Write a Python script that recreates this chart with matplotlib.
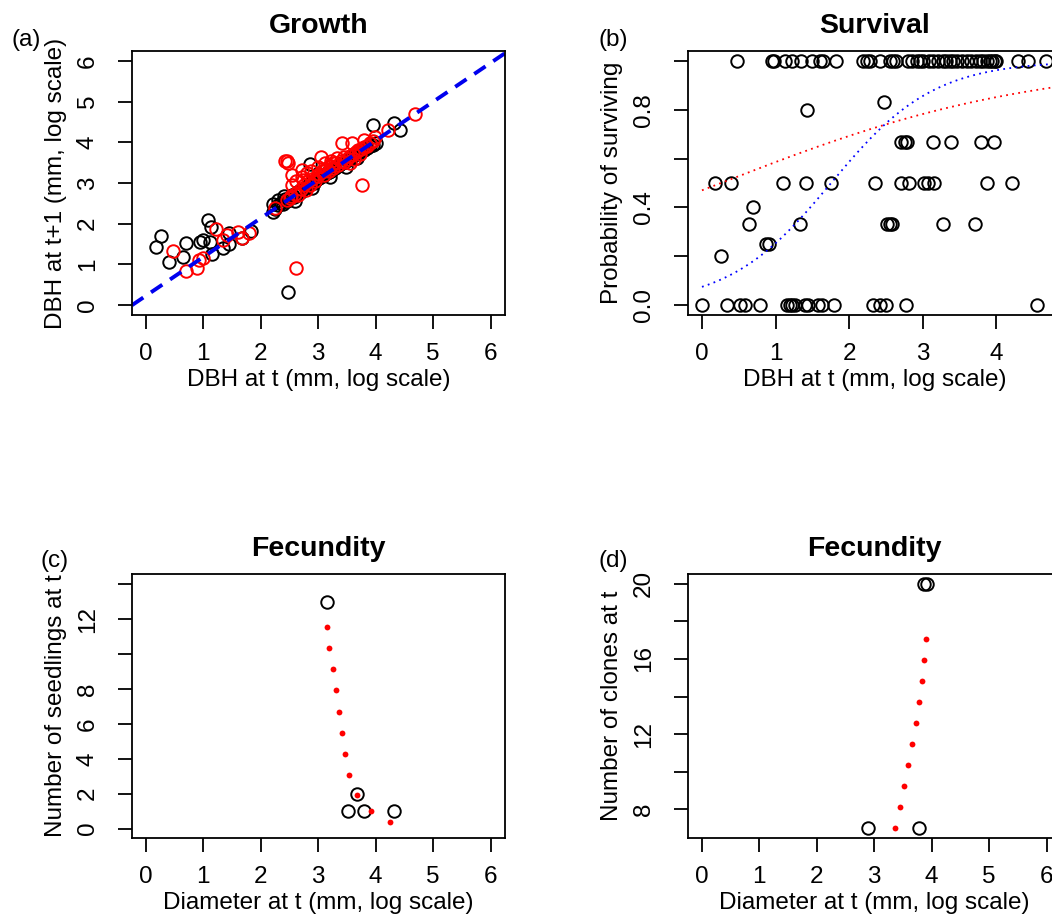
import numpy as np
import matplotlib
matplotlib.use("Agg")
import matplotlib.pyplot as plt

plt.rcParams['font.family'] = ['Liberation Sans', 'DejaVu Sans']

# ---- growth: log DBH at t vs t+1 ----
growth_black_x = [0.18, 0.27, 0.41, 0.64, 0.70, 0.94, 0.99, 1.09, 1.13, 1.12, 1.15, 1.35, 1.44, 1.44,
                  1.67, 1.83, 2.22, 2.21, 2.30, 2.41, 2.48, 2.85, 3.96, 4.31, 4.43,
                  2.25, 2.30, 2.35, 2.38, 2.42, 2.45, 2.50, 2.55, 2.58, 2.62, 2.66, 2.70, 2.74, 2.78,
                  2.82, 2.85, 2.88, 2.92, 2.95, 2.98, 3.02, 3.05, 3.08, 3.12, 3.15, 3.18, 3.22, 3.25,
                  3.30, 3.34, 3.38, 3.42, 3.46, 3.50, 3.55, 3.60, 3.65, 3.70, 3.75, 3.80, 3.85, 3.90,
                  3.95, 4.00, 2.60, 2.90, 3.20, 3.48, 3.68]
growth_black_y = [1.43, 1.69, 1.05, 1.18, 1.53, 1.54, 1.61, 2.10, 1.91, 1.55, 1.26, 1.41, 1.77, 1.51,
                  1.65, 1.83, 2.28, 2.49, 2.59, 2.69, 0.33, 3.46, 4.43, 4.48, 4.29,
                  2.35, 2.45, 2.52, 2.48, 2.60, 2.55, 2.62, 2.70, 2.66, 2.75, 2.80, 2.78, 2.86, 2.90,
                  2.92, 2.98, 3.02, 3.00, 3.06, 3.10, 3.12, 3.16, 3.18, 3.22, 3.25, 3.28, 3.30, 3.34,
                  3.38, 3.42, 3.46, 3.50, 3.52, 3.56, 3.60, 3.66, 3.70, 3.74, 3.78, 3.82, 3.86, 3.90,
                  3.94, 3.98, 2.55, 2.88, 3.15, 3.40, 3.62]
growth_red_x = [0.47, 0.70, 0.89, 0.92, 1.00, 1.23, 1.35, 1.41, 1.61, 1.67, 1.79, 2.24, 2.42, 2.48,
                2.45, 2.61, 2.55, 2.71, 2.74, 3.04, 3.41, 3.59, 3.76, 3.79, 3.99, 4.22, 4.68,
                2.45, 2.52, 2.60, 2.65, 2.70, 2.75, 2.78, 2.82, 2.86, 2.90, 2.94, 2.98, 3.02, 3.06,
                3.10, 3.14, 3.18, 3.22, 3.26, 3.30, 3.35, 3.40, 3.45, 3.50, 3.55, 3.60, 3.65, 3.70,
                3.75, 3.80, 3.85, 3.90, 3.95, 2.62, 2.72, 2.80, 2.88, 3.00, 3.12, 3.22, 3.32, 3.10,
                2.55, 3.55, 3.62, 3.72, 3.25, 3.45, 2.51]
growth_red_y = [1.32, 0.83, 0.92, 1.10, 1.16, 1.88, 1.61, 1.73, 1.80, 1.65, 1.77, 2.39, 3.53, 3.49,
                3.55, 0.91, 3.19, 3.33, 3.08, 3.64, 3.98, 3.98, 2.96, 4.06, 4.14, 4.29, 4.70,
                2.58, 2.68, 2.74, 2.70, 2.85, 2.95, 2.84, 3.05, 2.94, 3.10, 3.05, 3.18, 3.22, 3.30,
                3.20, 3.35, 3.30, 3.42, 3.38, 3.50, 3.45, 3.55, 3.52, 3.60, 3.66, 3.70, 3.76, 3.80,
                3.84, 3.88, 3.92, 3.98, 4.02, 3.05, 3.15, 3.25, 3.30, 3.40, 3.48, 3.55, 3.62, 3.30,
                2.95, 3.48, 3.58, 3.70, 3.50, 3.65, 2.63]
growth_fit = (0.23, 0.953)  # intercept, slope

# ---- survival: observed proportions and two logistic fits ----
surv_x = [0.47, 0.95, 0.98, 1.13, 1.22, 1.35, 1.49, 1.61, 1.65, 1.82, 2.19, 2.24, 2.28, 2.42, 2.55,
          2.60, 2.64, 2.80, 2.85, 2.92, 2.96, 3.01, 3.08, 3.14, 3.21, 3.28, 3.32, 3.37, 3.41, 3.46,
          3.53, 3.60, 3.66, 3.73, 3.78, 3.82, 3.87, 3.91, 3.94, 3.98, 4.00, 4.30, 4.43, 4.68,
          1.43, 2.48,
          2.71, 2.76, 2.78, 3.14, 3.38, 3.79, 3.97,
          0.18, 0.40, 1.10, 1.41, 1.76, 2.35, 2.71, 2.81, 3.02, 3.07, 3.16, 3.88, 4.22,
          0.69,
          0.64, 1.33, 2.51, 2.55, 2.58, 3.28, 3.71,
          0.87, 0.91,
          0.26,
          0.00, 0.34, 0.52, 0.58, 0.79, 1.15, 1.19, 1.22, 1.26, 1.40, 1.44, 1.58, 1.63, 1.79,
          2.33, 2.42, 2.50, 2.77, 4.56]
surv_y = [1.0] * 44 + [0.8, 0.833] + [0.667] * 7 + [0.5] * 13 + [0.4] + [0.333] * 7 + \
         [0.25] * 2 + [0.2] + [0.0] * 19
surv_fit_red = (-0.12, 0.466)
surv_fit_blue = (-2.51, 1.43)

# ---- fecundity: seedlings ----
seed_x = [3.15, 3.67, 3.52, 3.79, 4.32]
seed_y = [13, 2, 1, 1, 1]
seed_pred_x = [3.15, 3.19, 3.25, 3.31, 3.36, 3.41, 3.47, 3.54, 3.67, 3.92, 4.25]
seed_pred_y = [11.58, 10.36, 9.15, 7.93, 6.71, 5.49, 4.28, 3.07, 1.90, 1.02, 0.35]

# ---- fecundity: clones ----
clone_x = [2.89, 3.78, 3.87, 3.92]
clone_y = [7, 7, 20, 20]
clone_pred_x = [3.37, 3.44, 3.51, 3.58, 3.65, 3.72, 3.78, 3.84, 3.87, 3.90]
clone_pred_y = [7.0, 8.13, 9.25, 10.36, 11.47, 12.61, 13.72, 14.83, 15.97, 17.08]

FS = 17.5
W, H = 1052, 924


def box(left, top, right, bottom):
    return [left / W, (H - bottom) / H, (right - left) / W, (bottom - top) / H]


def style(ax, xticks, yticks, ylabels):
    for s in ax.spines.values():
        s.set_linewidth(1.3)
    ax.set_xticks(xticks)
    ax.set_xticklabels([str(t) for t in xticks])
    ax.set_yticks(yticks)
    ax.set_yticklabels(ylabels)
    ax.tick_params(axis='x', length=10, width=1.3, pad=10, labelsize=FS)
    ax.tick_params(axis='y', length=10, width=1.3, pad=14, labelsize=FS)
    for t in ax.get_yticklabels():
        t.set_rotation(90)
        t.set_va('center')
        t.set_ha('right')


fig = plt.figure(figsize=(W / 100, H / 100), dpi=100)
circ = dict(ls='none', marker='o', mfc='none', ms=9, mew=1.4)

# (a) Growth
ax = fig.add_axes(box(132, 51, 505, 315))
ax.plot(growth_black_x, growth_black_y, mec='black', **circ)
ax.plot(growth_red_x, growth_red_y, mec='red', **circ)
ax.axline((0, growth_fit[0]), slope=growth_fit[1], color='#0000ee', lw=2.8,
          linestyle=(0, (3.5, 2.4)))
ax.set_xlim(-0.24, 6.25)
ax.set_ylim(-0.24, 6.24)
style(ax, range(7), range(7), [str(i) for i in range(7)])
ax.set_title('Growth', fontsize=20.5, fontweight='bold', pad=13)
ax.set_xlabel('DBH at t (mm, log scale)', fontsize=FS)
ax.set_ylabel('DBH at t+1 (mm, log scale)', fontsize=FS)
ax.xaxis.set_label_coords(0.5, -0.205)
ax.yaxis.set_label_coords(-0.174, 0.5)

# (b) Survival
ax = fig.add_axes(box(688, 51, 1061, 315))
ax.plot(surv_x, surv_y, mec='black', **circ)
xs = np.linspace(0, 4.9, 300)
for (b0, b1), col in [(surv_fit_red, 'red'), (surv_fit_blue, 'blue')]:
    ax.plot(xs, 1 / (1 + np.exp(-(b0 + b1 * xs))), color=col, lw=1.3,
            linestyle=(0, (1, 2.4)))
ax.set_xlim(-0.19, 4.88)
ax.set_ylim(-0.04, 1.04)
style(ax, range(5), [0, 0.2, 0.4, 0.6, 0.8, 1.0], ['0.0', '', '0.4', '', '0.8', ''])
ax.set_title('Survival', fontsize=20.5, fontweight='bold', pad=13)
ax.set_xlabel('DBH at t (mm, log scale)', fontsize=FS)
ax.set_ylabel('Probability of surviving', fontsize=FS)
ax.xaxis.set_label_coords(0.5, -0.205)
ax.yaxis.set_label_coords(-0.174, 0.5)

# (c) Fecundity - seedlings
ax = fig.add_axes(box(132, 574, 505, 838))
ax.plot(seed_x, seed_y, mec='black', **circ)
ax.plot(seed_pred_x, seed_pred_y, ls='none', marker='o', color='red', ms=4.2, mew=0)
ax.set_xlim(-0.24, 6.25)
ax.set_ylim(-0.54, 14.6)
style(ax, range(7), range(0, 15, 2), ['0', '2', '4', '6', '8', '', '12', ''])
ax.set_title('Fecundity', fontsize=20.5, fontweight='bold', pad=13)
ax.set_xlabel('Diameter at t (mm, log scale)', fontsize=FS)
ax.set_ylabel('Number of seedlings at t', fontsize=FS)
ax.xaxis.set_label_coords(0.5, -0.205)
ax.yaxis.set_label_coords(-0.174, 0.5)

# (d) Fecundity - clones
ax = fig.add_axes(box(688, 574, 1061, 838))
ax.plot(clone_x, clone_y, mec='black', **circ)
ax.plot(clone_pred_x, clone_pred_y, ls='none', marker='o', color='red', ms=4.2, mew=0)
ax.set_xlim(-0.24, 6.25)
ax.set_ylim(6.48, 20.52)
style(ax, range(7), range(8, 21, 2), ['8', '', '12', '', '16', '', '20'])
ax.set_title('Fecundity', fontsize=20.5, fontweight='bold', pad=13)
ax.set_xlabel('Diameter at t (mm, log scale)', fontsize=FS)
ax.set_ylabel('Number of clones at t', fontsize=FS)
ax.xaxis.set_label_coords(0.5, -0.205)
ax.yaxis.set_label_coords(-0.174, 0.5)

for lab, (px, py) in zip(['(a)', '(b)', '(c)', '(d)'],
                         [(26, 40), (613, 40), (55, 561), (613, 561)]):
    fig.text(px / W, 1 - py / H, lab, fontsize=FS, ha='center', va='center')

fig.savefig('out.png', dpi=100)
